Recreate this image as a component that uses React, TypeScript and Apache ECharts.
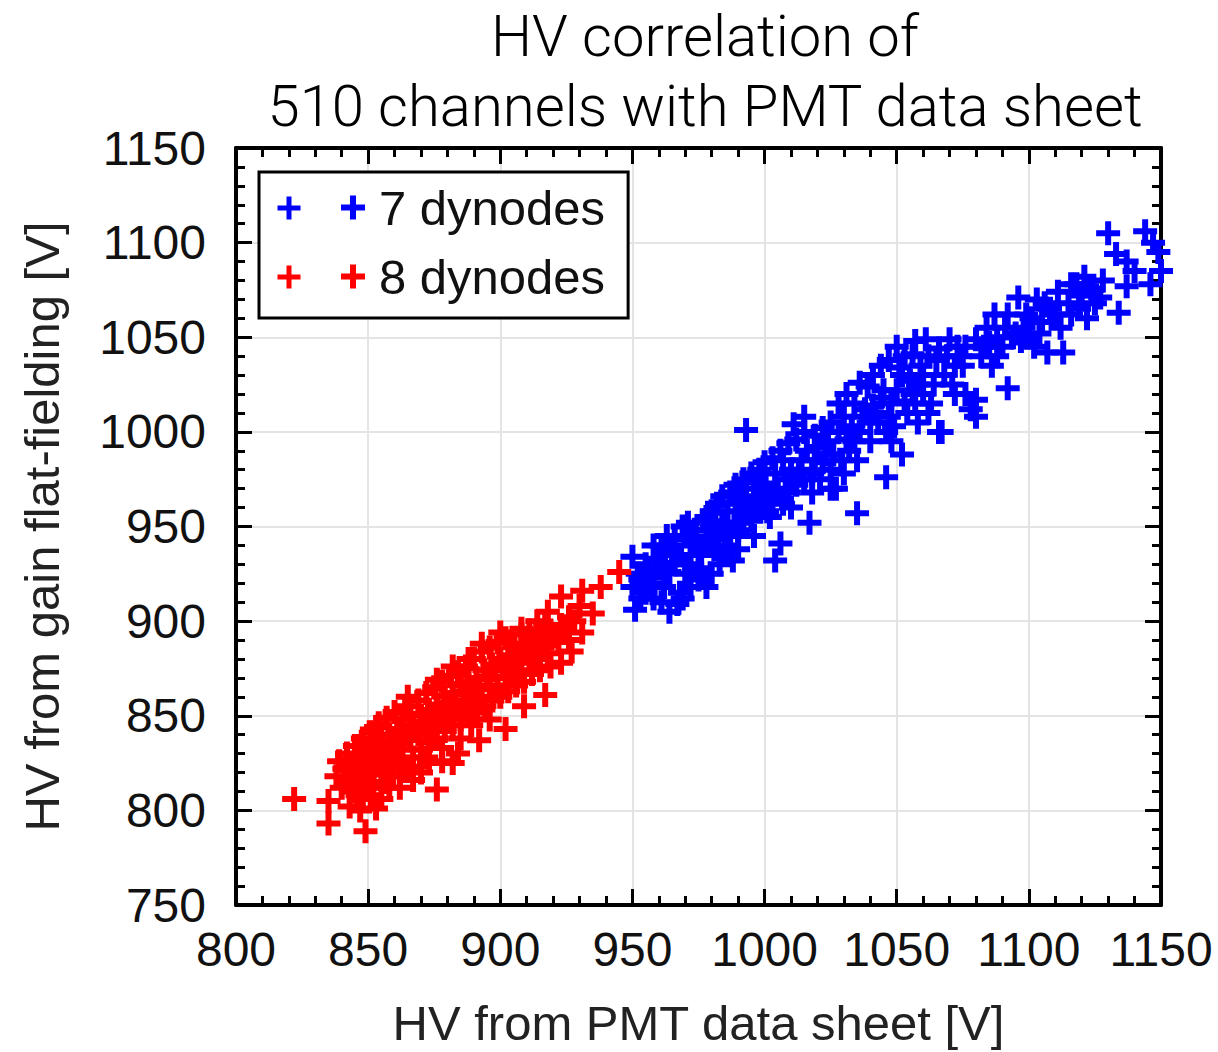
import React, { useEffect, useRef } from "react";
import * as echarts from "echarts";

// ---- data: [HV data sheet, HV flat-fielding] ----
const dynodes7: number[][] = [
  [951, 906], [953, 912], [950, 918], [952, 925], [955, 930], [950, 934], [957, 920], [960, 928],
  [962, 935], [958, 940], [965, 938], [967, 909], [968, 915], [970, 925], [966, 930], [972, 935],
  [974, 942], [970, 945], [976, 940], [978, 948], [975, 928], [980, 950], [982, 945], [978, 955],
  [984, 952], [986, 958], [988, 932], [990, 938], [985, 940], [992, 955], [989, 962], [994, 960],
  [996, 966], [993, 970], [998, 965], [1000, 972], [997, 975], [1002, 968], [1004, 978], [1006, 941],
  [1004, 932], [1008, 975], [1010, 980], [1007, 985], [1012, 972], [1014, 985], [1017, 952], [1016, 990],
  [1018, 978], [1020, 992], [1022, 984], [1024, 995], [1026, 988], [1028, 1000], [1030, 1008], [1027, 970],
  [1030, 978], [1032, 990], [1035, 957], [1034, 995], [1036, 1000], [1038, 1012], [1040, 1005], [1039, 1024],
  [1042, 1010], [1044, 1018], [1046, 976], [1046, 1000], [1048, 1015], [1050, 1022], [1052, 988], [1052, 1030],
  [1051, 1034], [1054, 1010], [1056, 1020], [1056, 1041], [1058, 1025], [1060, 1030], [1061, 1049], [1063, 1015],
  [1062, 1040], [1065, 1038], [1067, 1000], [1068, 1030], [1070, 1049], [1072, 1035], [1074, 1040], [1076, 1020],
  [1078, 1012], [1080, 1017], [1080, 1008], [1080, 1049], [1083, 1045], [1085, 1047], [1087, 1062], [1088, 1040],
  [1090, 1045], [1092, 1023], [1094, 1050], [1095, 1052], [1096, 1071], [1098, 1055], [1100, 1050], [1102, 1045],
  [1103, 1070], [1105, 1058], [1107, 1042], [1110, 1062], [1113, 1042], [1115, 1068], [1118, 1078], [1120, 1072],
  [1122, 1077], [1122, 1060], [1125, 1068], [1127, 1071], [1130, 1105], [1133, 1094], [1134, 1063], [1137, 1090],
  [1137, 1077], [1140, 1085], [1144, 1106], [1147, 1100], [1146, 1078], [1149, 1095], [1150, 1085],
  [993, 1001], [1011, 1004], [1015, 1008], [1066, 1000],
  [955, 915], [958, 925], [962, 918], [964, 926], [968, 935], [970, 930], [973, 940], [976, 935],
  [979, 942], [981, 938], [983, 948], [985, 950], [987, 945], [990, 952], [991, 965], [993, 958],
  [995, 953], [997, 960], [999, 962], [1001, 958], [1003, 965], [1005, 970], [1007, 962], [1009, 968],
  [1011, 975], [1013, 980], [1015, 975], [1019, 985], [1021, 975], [1023, 988], [1025, 980], [1029, 985],
  [1031, 996], [1033, 1003], [1037, 1008], [1041, 1014], [1043, 1005], [1045, 1022], [1047, 1008], [1049, 1003],
  [1053, 1016], [1055, 1027], [1057, 1015], [1059, 1035], [1064, 1025], [1066, 1044], [1069, 1040], [1071, 1025],
  [1073, 1045], [1075, 1035], [1082, 1040], [1086, 1035], [1091, 1055], [1097, 1048], [1099, 1062], [1104, 1052],
  [1108, 1065], [1112, 1055], [1116, 1062], [1119, 1065],
  [961, 910], [964, 905], [969, 912], [972, 918], [975, 922], [980, 925], [983, 930], [978, 918],
  [953, 922], [956, 928], [959, 933], [961, 940], [963, 945], [966, 943], [969, 950], [971, 952],
  [974, 948], [977, 953], [980, 958], [982, 962], [984, 966], [987, 968], [989, 972], [992, 975],
  [995, 978], [998, 980], [1000, 984], [1003, 986], [1006, 990], [1009, 994], [1012, 996], [1015, 1000],
  [1019, 998], [1022, 1002], [1025, 1005], [1028, 1015], [1031, 1020], [1034, 1015], [1036, 1026], [1041, 1030],
  [1044, 1035], [1047, 1038], [1050, 1045], [1053, 1040], [1057, 1048], [1060, 1020], [1062, 1010], [1058, 1005],
  [1048, 995], [1040, 995], [1035, 985], [1025, 970], [1018, 968], [1010, 960], [1002, 955], [996, 945],
  [990, 948], [984, 935], [976, 925], [958, 912], [1072, 1020], [1076, 1045], [1084, 1055], [1088, 1050],
  [1092, 1062], [1101, 1060], [1106, 1068], [1111, 1074], [1116, 1078], [1121, 1082], [1124, 1075], [1128, 1080],
];

const dynodes8: number[][] = [
  [822, 806], [835, 805], [835, 793], [849, 789], [853, 801], [843, 802], [838, 818], [876, 811],
  [867, 816], [882, 825], [892, 837], [902, 843], [909, 855], [917, 861], [923, 878], [931, 894],
  [935, 904], [938, 918], [945, 926], [923, 913], [931, 916], [908, 896], [900, 894], [893, 888],
  [888, 880], [882, 876], [876, 869], [865, 860], [853, 844], [847, 834], [842, 827],
  [846, 808], [850, 812], [855, 806], [852, 815], [858, 812], [862, 818], [870, 820], [873, 825],
  [872, 828], [865, 823], [878, 833], [885, 838], [889, 845], [896, 848],
  [839, 826], [840, 812], [842, 830], [842, 817], [843, 824], [845, 834], [845, 820], [846, 812],
  [846, 828], [848, 838], [848, 822], [849, 815], [849, 831], [851, 841], [851, 826], [852, 819],
  [852, 834], [854, 846], [854, 829], [855, 822], [855, 837], [857, 849], [857, 831], [858, 824],
  [858, 840], [860, 852], [860, 834], [861, 826], [861, 843], [863, 848], [863, 832], [864, 855],
  [864, 822], [866, 851], [866, 838], [867, 828], [867, 845], [869, 858], [869, 840], [870, 832],
  [870, 850], [872, 862], [872, 843], [873, 836], [873, 853], [875, 865], [875, 845], [876, 838],
  [876, 856], [878, 868], [878, 848], [879, 842], [879, 860], [878, 826], [881, 871], [881, 850],
  [882, 845], [882, 862], [884, 873], [884, 853], [885, 848], [885, 866], [884, 830], [887, 876],
  [887, 856], [888, 850], [888, 868], [890, 880], [890, 858], [891, 852], [891, 870], [893, 884],
  [893, 860], [894, 855], [894, 874], [896, 886], [896, 864], [897, 858], [897, 877], [899, 889],
  [899, 866], [900, 860], [900, 880], [902, 891], [902, 870], [903, 863], [903, 882], [905, 888],
  [905, 872], [906, 866], [906, 880], [908, 893], [908, 874], [909, 868], [909, 884], [911, 895],
  [911, 878], [912, 872], [912, 886], [914, 900], [914, 880], [915, 874], [915, 891], [918, 905],
  [918, 883], [919, 876], [919, 895], [922, 889], [923, 898], [926, 902], [926, 890], [930, 908],
  [927, 884],
  [841, 822], [844, 816], [847, 818], [850, 824], [853, 826], [856, 828], [859, 830], [862, 836],
  [865, 840], [868, 842], [871, 846], [874, 850], [877, 852], [880, 856], [883, 858], [886, 862],
  [889, 864], [892, 866], [895, 870], [898, 874], [901, 876], [904, 878], [907, 882], [910, 886],
  [913, 890], [916, 886], [920, 892], [924, 896], [928, 900], [917, 898],
  [844, 810], [848, 806], [851, 808], [856, 815], [859, 818], [847, 800], [862, 812],
];

const seriesNames = ["7 dynodes", "8 dynodes"];
const seriesColors = ["#0000ff", "#ff0000"];
const titleLines = ["HV correlation of", "510 channels with PMT data sheet"];
const xAxisName = "HV from PMT data sheet [V]";
const yAxisName = "HV from gain flat-fielding [V]";

const PLUS = "path://M9,0H15V9H24V15H15V24H9V15H0V9H9Z";
const FONT = "'Liberation Sans', Arial, Helvetica, sans-serif";

function plusShape(cx: number, cy: number, s: number, t: number, color: string) {
  const h = s / 2;
  const w = t / 2;
  return {
    type: "polygon",
    z: 100,
    shape: {
      points: [
        [cx - w, cy - h], [cx + w, cy - h], [cx + w, cy - w], [cx + h, cy - w],
        [cx + h, cy + w], [cx + w, cy + w], [cx + w, cy + h], [cx - w, cy + h],
        [cx - w, cy + w], [cx - h, cy + w], [cx - h, cy - w], [cx - w, cy - w],
      ],
    },
    style: { fill: color },
  };
}

export default function App() {
  const ref = useRef<HTMLDivElement>(null);
  useEffect(() => {
    if (!ref.current) return;
    const chart = echarts.init(ref.current, undefined, { renderer: "svg" });
    const axisLine = { show: true, onZero: false, lineStyle: { color: "#000", width: 4 } };
    const axisTick = { show: true, inside: true, length: 16, lineStyle: { color: "#000", width: 3 } };
    const minorTick = { show: true, splitNumber: 5, length: 9, lineStyle: { color: "#000", width: 3 } };
    const tickLabel = {
      fontSize: 48,
      color: "#111",
      fontFamily: FONT,
      formatter: (v: number) => String(v),
    };
    const nameStyle = { fontSize: 49, color: "#222", fontFamily: FONT };
    chart.setOption({
      animation: false,
      backgroundColor: "#fff",
      title: {
        text: titleLines.join("\n"),
        left: 700,
        top: -4,
        textAlign: "center",
        textStyle: {
          fontSize: 58,
          fontWeight: 300,
          fontFamily: "Roboto, 'Liberation Sans', sans-serif",
          color: "#000",
          lineHeight: 70,
        },
      },
      grid: { left: 236, top: 148, width: 925, height: 757, containLabel: false },
      legend: {
        orient: "vertical",
        left: 259,
        top: 172,
        padding: [11, 23, 17, 82],
        itemGap: 20,
        itemWidth: 42,
        itemHeight: 24,
        borderColor: "#000",
        borderWidth: 3,
        borderRadius: 0,
        backgroundColor: "#fff",
        textStyle: { fontSize: 49, color: "#111", fontFamily: FONT },
        data: seriesNames.map((n) => ({ name: n, icon: PLUS })),
        z: 50,
      },
      graphic: [
        plusShape(289, 208, 23, 5, seriesColors[0]),
        plusShape(289, 277, 23, 5, seriesColors[1]),
      ],
      xAxis: [
        {
          type: "value",
          min: 800,
          max: 1150,
          interval: 50,
          position: "bottom",
          axisLine,
          axisTick,
          minorTick,
          splitLine: { show: true, lineStyle: { color: "#e4e4e4", width: 2 } },
          axisLabel: { ...tickLabel, margin: 20, showMinLabel: true, showMaxLabel: true },
          name: xAxisName,
          nameLocation: "middle",
          nameGap: 93,
          nameTextStyle: nameStyle,
        },
        {
          type: "value",
          min: 800,
          max: 1150,
          interval: 50,
          position: "top",
          axisLine,
          axisTick,
          minorTick,
          splitLine: { show: false },
          axisLabel: { show: false },
        },
      ],
      yAxis: [
        {
          type: "value",
          min: 750,
          max: 1150,
          interval: 50,
          position: "left",
          axisLine,
          axisTick,
          minorTick,
          splitLine: { show: true, lineStyle: { color: "#e4e4e4", width: 2 } },
          axisLabel: { ...tickLabel, margin: 30, showMinLabel: true, showMaxLabel: true },
          name: yAxisName,
          nameLocation: "middle",
          nameGap: 170,
          nameTextStyle: nameStyle,
        },
        {
          type: "value",
          min: 750,
          max: 1150,
          interval: 50,
          position: "right",
          axisLine,
          axisTick,
          minorTick,
          splitLine: { show: false },
          axisLabel: { show: false },
        },
      ],
      series: [
        {
          name: seriesNames[0],
          type: "scatter",
          data: dynodes7,
          symbol: PLUS,
          symbolSize: 24,
          itemStyle: { color: seriesColors[0], opacity: 1 },
          xAxisIndex: 0,
          yAxisIndex: 0,
        },
        {
          name: seriesNames[1],
          type: "scatter",
          data: dynodes8,
          symbol: PLUS,
          symbolSize: 24,
          itemStyle: { color: seriesColors[1], opacity: 1 },
          xAxisIndex: 0,
          yAxisIndex: 0,
        },
      ],
    });
    return () => chart.dispose();
  }, []);
  return (
    <div
      ref={ref}
      style={{ position: "absolute", left: 0, top: 0, width: 1218, height: 1052 }}
    />
  );
}
